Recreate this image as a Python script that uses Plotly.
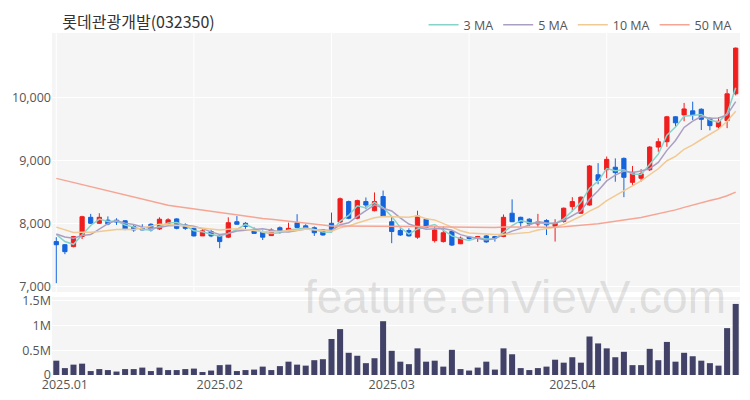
import pandas as pd
import plotly.graph_objects as go

# ---------------- data ----------------
title_text = "롯데관광개발(032350)"
krx_holidays = ["2024-12-31", "2025-01-01", "2025-01-27", "2025-01-28", "2025-01-29", "2025-01-30"]
dates = [d.strftime("%Y-%m-%d") for d in pd.bdate_range("2024-12-30", "2025-04-28")
         if d.strftime("%Y-%m-%d") not in krx_holidays]

opens = [7720, 7670, 7640, 7800, 8105, 8010, 8060, 8060, 8050, 7960,
         7930, 7995, 7920, 8010, 8080, 7985, 7930, 7810, 7880, 7810,
         7790, 8035, 8010, 7895, 7880, 7815, 7940, 7905, 8020, 7970,
         7940, 7905, 8010, 8030, 8355, 8090, 8355, 8210, 8435, 8035,
         7895, 7895, 7790, 8075, 7735, 7720, 7880, 7685, 7790, 7775,
         7810, 7800, 7800, 8170, 8105, 8075, 8000, 8055, 7960, 8040,
         8275, 8170, 8300, 8780, 8860, 8900, 9040, 8660, 8725, 8860,
         9220, 9305, 9700, 9730, 9795, 9820, 9675, 9540, 9640, 10065]
highs = [7790, 7680, 7810, 8130, 8160, 8170, 8120, 8090, 8060, 7985,
         7995, 8010, 8105, 8090, 8090, 8010, 7935, 7915, 7905, 7825,
         8105, 8125, 8030, 7945, 7895, 7930, 7960, 8020, 8155, 7995,
         7960, 7915, 8180, 8420, 8370, 8385, 8420, 8500, 8530, 8115,
         7930, 7930, 8210, 8090, 7970, 7960, 7895, 7800, 7810, 7810,
         7825, 7810, 8150, 8390, 8115, 8090, 8160, 8075, 8075, 8260,
         8425, 8435, 8935, 8965, 9070, 9040, 9055, 8920, 8870, 9235,
         9360, 9715, 9710, 9920, 9940, 9835, 9690, 9695, 10140, 10800]
lows = [7060, 7520, 7630, 7760, 8000, 8000, 7980, 7985, 7900, 7875,
        7900, 7880, 7905, 7985, 7915, 7905, 7800, 7810, 7790, 7615,
        7775, 7990, 7920, 7850, 7745, 7810, 7845, 7880, 7930, 7920,
        7810, 7815, 7905, 8010, 8075, 8075, 8235, 8200, 8115, 7695,
        7810, 7800, 7765, 7930, 7705, 7705, 7650, 7680, 7750, 7715,
        7700, 7720, 7790, 8030, 7955, 7965, 7955, 7825, 7720, 8020,
        8195, 8160, 8290, 8630, 8725, 8670, 8425, 8620, 8670, 8840,
        9145, 9225, 9545, 9630, 9650, 9490, 9485, 9510, 9520, 10040]
closes = [7670, 7560, 7800, 8115, 8010, 8105, 8000, 8030, 7920, 7905,
          7905, 7905, 8075, 8065, 7930, 7930, 7810, 7890, 7810, 7720,
          8020, 7995, 7960, 7850, 7790, 7905, 7880, 7930, 7945, 7930,
          7860, 7825, 7915, 8400, 8090, 8370, 8300, 8355, 8125, 7880,
          7825, 7810, 8125, 7945, 7905, 7860, 7665, 7775, 7770, 7800,
          7715, 7775, 8105, 8035, 8020, 8000, 8030, 7985, 8010, 8250,
          8355, 8425, 8920, 8690, 9025, 8815, 8740, 8820, 8795, 9220,
          9305, 9700, 9605, 9825, 9730, 9660, 9560, 9630, 10065, 10790]
volumes = [290000, 140000, 210000, 230000, 80000, 120000, 100000, 70000, 120000, 120000,
           150000, 80000, 150000, 100000, 100000, 120000, 130000, 60000, 90000, 200000,
           210000, 80000, 100000, 110000, 170000, 100000, 180000, 270000, 210000, 190000,
           300000, 320000, 730000, 930000, 450000, 390000, 240000, 340000, 1090000, 490000,
           270000, 220000, 540000, 270000, 290000, 170000, 510000, 120000, 90000, 150000,
           270000, 110000, 540000, 420000, 140000, 100000, 140000, 170000, 310000, 250000,
           360000, 250000, 780000, 640000, 540000, 360000, 470000, 200000, 200000, 530000,
           300000, 670000, 270000, 450000, 380000, 290000, 240000, 190000, 950000, 1440000]
# closes of the 49 sessions before the window (estimated from where the MA lines start)
history_closes = [9200, 9430, 9750, 9650, 9740, 9640, 9670, 9550, 9540, 9540,
                  9540, 9710, 9700, 8930, 8930, 8810, 8890, 8810, 8720, 9020,
                  8995, 8960, 8600, 8540, 8655, 8630, 8680, 8695, 8680, 8610,
                  8575, 8665, 8400, 8090, 8370, 8300, 8355, 8125, 8010, 7955,
                  7940, 8255, 8075, 8035, 7990, 7795, 7905, 7900, 7930]
ma_windows = [3, 5, 10, 50]
ma_names = ["3 MA", "5 MA", "10 MA", "50 MA"]
month_labels = ["2025.01", "2025.02", "2025.03", "2025.04"]
price_ticks = [7000, 8000, 9000, 10000]
volume_ticks = [0, 500000, 1000000, 1500000]
volume_tick_text = ["0", "0.5M", "1M", "1.5M"]

# ---------------- styles ----------------
RED = "#f01e1e"
BLUE = "#1464dc"
NAVY = "#424268"
MA_COLORS = ["#86d4c9", "#aa9fc3", "#f1c992", "#f6a595"]
FONT = "Open Sans"
KFONT = "Noto Sans CJK KR"
GRID = "#ffffff"
BG = "#f5f5f5"
TXT = "#555555"

full = pd.Series(history_closes + closes, dtype=float)
n_hist = len(history_closes)

fig = go.Figure()
fig.add_trace(go.Candlestick(
    x=dates, open=opens, high=highs, low=lows, close=closes,
    increasing=dict(line=dict(color=RED, width=1), fillcolor=RED),
    decreasing=dict(line=dict(color=BLUE, width=1), fillcolor=BLUE),
    whiskerwidth=0, showlegend=False, xaxis="x", yaxis="y", hoverinfo="skip"))
for w, name, col in zip(ma_windows, ma_names, MA_COLORS):
    ma = full.rolling(w).mean().iloc[n_hist:].tolist()
    fig.add_trace(go.Scatter(x=dates, y=ma, mode="lines", name=name,
                             line=dict(color=col, width=1.5), xaxis="x", yaxis="y",
                             hoverinfo="skip"))
fig.add_trace(go.Bar(x=dates, y=volumes, marker=dict(color=NAVY, line=dict(width=0)),
                     showlegend=False, xaxis="x", yaxis="y2", hoverinfo="skip"))

month_first = []
for lab in month_labels:
    key = lab.replace(".", "-")
    month_first.append(next(d for d in dates if d.startswith(key)))

for d in dates[::16]:
    fig.add_shape(type="line", xref="x", yref="y domain", x0=d, x1=d, y0=0, y1=1,
                  line=dict(color=GRID, width=1), layer="below")

fig.add_annotation(text="feature.enVievV.com", xref="paper", yref="paper",
                   x=0.673, y=0.228, xanchor="center", yanchor="middle", showarrow=False,
                   font=dict(family="Liberation Sans", size=46, color="rgba(170,170,170,0.33)"))

fig.update_layout(
    width=750, height=400,
    margin=dict(l=52, r=10, t=33, b=25, autoexpand=False),
    paper_bgcolor="white", plot_bgcolor=BG,
    font=dict(family=FONT, size=12.5, color=TXT),
    title=dict(text=title_text, x=0.015, xref="paper", xanchor="left",
               y=1 - 22 / 400, yref="container", yanchor="middle",
               font=dict(family=KFONT, size=16, color="#333333")),
    legend=dict(orientation="h", x=0.995, xanchor="right", y=1 - 25 / 400, yref="container",
                yanchor="middle", font=dict(family=FONT, size=12.5, color=TXT),
                bgcolor="rgba(0,0,0,0)"),
    bargap=0.3, boxgap=0.3,
    hovermode=False,
    xaxis=dict(type="category", anchor="y2", rangeslider=dict(visible=False),
               range=[-0.5, len(dates) - 0.5], automargin=False,
               tickmode="array", tickvals=month_first, ticktext=month_labels,
               showgrid=False, ticks="", zeroline=False),
    yaxis=dict(domain=[0.2427, 1], range=[6920, 11030], tickvals=price_ticks,
               tickformat=",", showgrid=True, gridcolor=GRID, gridwidth=1,
               zeroline=False, ticks="", anchor="x", automargin=False),
    yaxis2=dict(domain=[0, 0.228], range=[0, 1580000], tickvals=volume_ticks,
                ticktext=volume_tick_text, showgrid=True, gridcolor=GRID,
                zeroline=False, ticks="", anchor="x", automargin=False),
)

fig.write_html("out.html", config={"displayModeBar": False},
               post_script="document.body.style.margin='0';")
